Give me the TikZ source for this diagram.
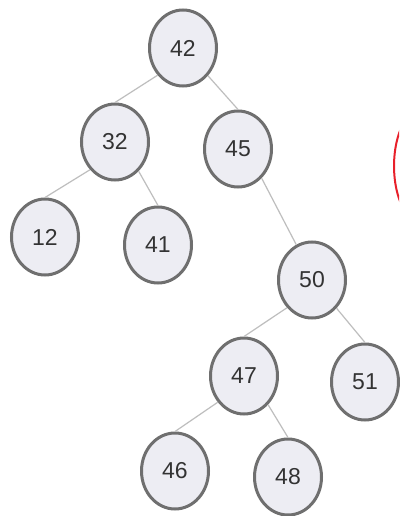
\documentclass[tikz,border=0pt]{standalone}
\usepackage{fontspec}
\setmainfont{Liberation Sans}
\usetikzlibrary{shapes.geometric}
\definecolor{nodefill}{HTML}{EDEDF3}
\definecolor{nodeborder}{HTML}{6F6F6F}
\definecolor{edgecol}{HTML}{BEBEBE}
\definecolor{txtcol}{HTML}{333333}
\definecolor{redmark}{HTML}{E8202A}
\newcommand{\nodefont}{\fontsize{23}{27}\selectfont}
\begin{document}
\begin{tikzpicture}[x=1pt,y=-1pt,
  treenode/.style={ellipse, draw=nodeborder, fill=nodefill, line width=3pt,
    minimum width=67pt, minimum height=76pt, inner sep=0pt,
    text=txtcol, font=\nodefont},
  treeedge/.style={draw=edgecol, line width=1.2pt}]
\useasboundingbox (0,0) rectangle (399,516);
\fill[white] (0,0) rectangle (399,516);
\node[treenode] (n42) at (183,48) {42};
\node[treenode] (n32) at (115,142) {32};
\node[treenode] (n45) at (238,149) {45};
\node[treenode] (n12) at (45,237) {12};
\node[treenode] (n41) at (158,245) {41};
\node[treenode] (n50) at (312,280) {50};
\node[treenode] (n47) at (244,376) {47};
\node[treenode] (n51) at (365,382) {51};
\node[treenode] (n46) at (175,471) {46};
\node[treenode] (n48) at (288,477) {48};
\draw[treeedge] (n42.227) -- (n32.north);
\draw[treeedge] (n42.312) -- (n45.north);
\draw[treeedge] (n32.228) -- (n12.north);
\draw[treeedge] (n32.309) -- (n41.north);
\draw[treeedge] (n45.309) -- (n50.114);
\draw[treeedge] (n50.228) -- (n47.north);
\draw[treeedge] (n50.311) -- (n51.north);
\draw[treeedge] (n47.225) -- (n46.north);
\draw[treeedge] (n47.310) -- (n48.north);
\begin{scope}
  \clip (0,0) rectangle (399,516);
  \draw[redmark, line width=2pt] (423,166) ellipse [x radius=29, y radius=58];
\end{scope}
\end{tikzpicture}
\end{document}
